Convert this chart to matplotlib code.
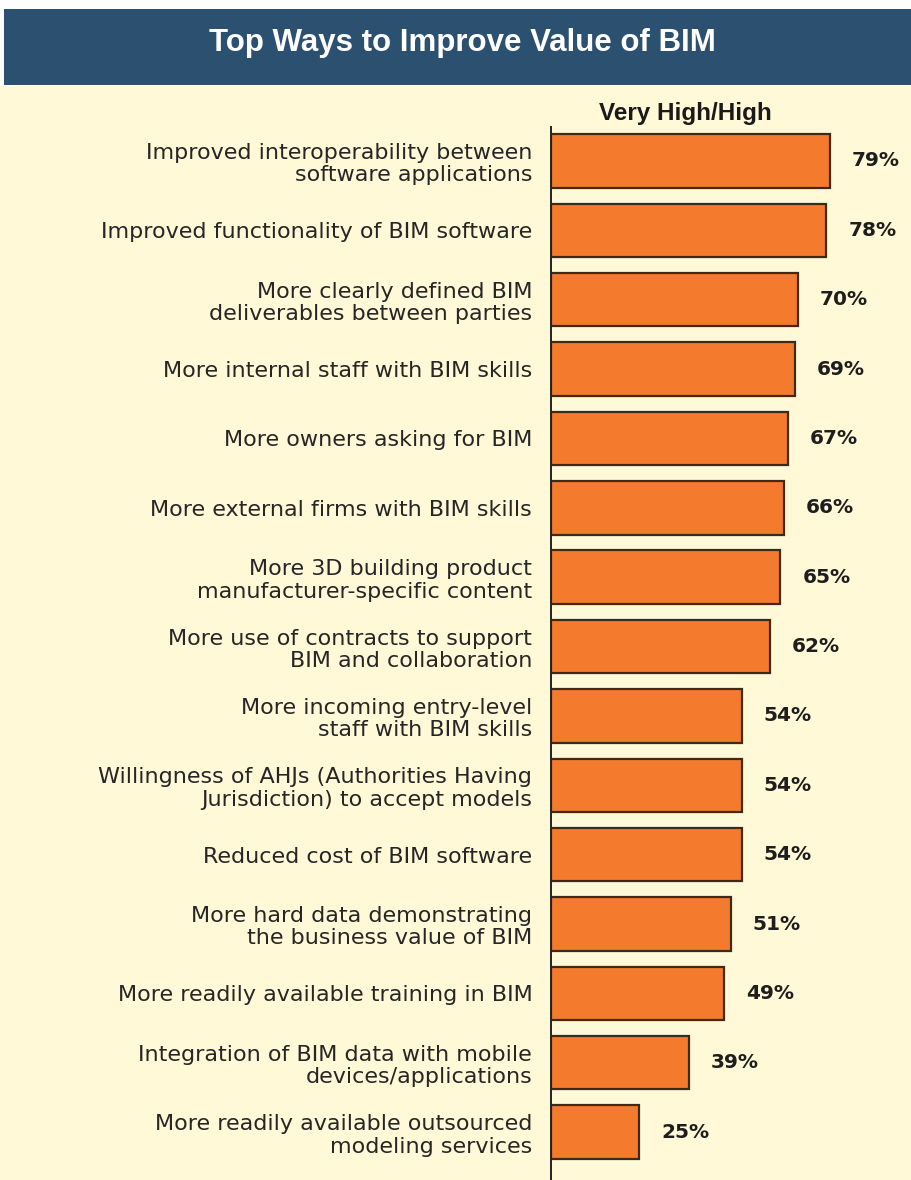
import matplotlib
matplotlib.use("Agg")
import matplotlib.pyplot as plt
from matplotlib.patches import Rectangle

categories = [
    "Improved interoperability between\nsoftware applications",
    "Improved functionality of BIM software",
    "More clearly defined BIM\ndeliverables between parties",
    "More internal staff with BIM skills",
    "More owners asking for BIM",
    "More external firms with BIM skills",
    "More 3D building product\nmanufacturer-specific content",
    "More use of contracts to support\nBIM and collaboration",
    "More incoming entry-level\nstaff with BIM skills",
    "Willingness of AHJs (Authorities Having\nJurisdiction) to accept models",
    "Reduced cost of BIM software",
    "More hard data demonstrating\nthe business value of BIM",
    "More readily available training in BIM",
    "Integration of BIM data with mobile\ndevices/applications",
    "More readily available outsourced\nmodeling services",
]
values = [79, 78, 70, 69, 67, 66, 65, 62, 54, 54, 54, 51, 49, 39, 25]

title = "Top Ways to Improve Value of BIM"
series_name = "Very High/High"

W, H = 911, 1180
DPI = 100
CREAM = "#FFF9D8"
BLUE = "#2B5070"
ORANGE = "#F47B2E"
EDGE = "#3F2A18"

plt.rcParams['font.family'] = ['DejaVu Sans']

fig = plt.figure(figsize=(W / DPI, H / DPI), dpi=DPI, facecolor=CREAM)

# white strip at the top and header band
fig.patches.append(Rectangle((0, (H - 86) / H), 1, 86 / H, transform=fig.transFigure,
                             facecolor="white", edgecolor="none", zorder=0))
fig.patches.append(Rectangle((4 / W, (H - 85) / H), 1, 76 / H, transform=fig.transFigure,
                             facecolor=BLUE, edgecolor="none", zorder=1))
fig.text(462 / W, (H - 51) / H, title, color="white", fontsize=22.5, fontweight="bold",
         ha="center", va="baseline", family=["Liberation Sans", "DejaVu Sans"])
fig.text(685 / W, (H - 120) / H, series_name, color="#1a1a1a", fontsize=17.5,
         fontweight="bold", ha="center", va="baseline",
         family=["Liberation Sans", "DejaVu Sans"])

ax_left = 551 / W
ax_top = 127
ax = fig.add_axes([ax_left, 0, 1 - ax_left, (H - ax_top) / H])
ax.set_facecolor("none")

n = len(values)
y = list(range(n))
ax.barh(y, values, height=0.77, color=ORANGE, edgecolor=EDGE, linewidth=1.6, zorder=2)
for yi, v in zip(y, values):
    ax.text(v + 6.2, yi, f"{v}%", ha="left", va="center", fontsize=14.5,
            fontweight="bold", color="#1e1e1e")

ax.set_xlim(0, (W - 551) / 3.53)
ax.set_ylim(n - 1 + 0.69, -0.49)
ax.set_yticks(y)
ax.set_yticklabels(categories, fontsize=16, color="#262626", linespacing=1.15)
ax.tick_params(axis="y", length=0, pad=13.5)
ax.set_xticks([])
for s in ["top", "right", "bottom"]:
    ax.spines[s].set_visible(False)
ax.spines["left"].set_color("#222222")
ax.spines["left"].set_linewidth(1.4)

fig.savefig("out.png", dpi=DPI, facecolor=CREAM)
